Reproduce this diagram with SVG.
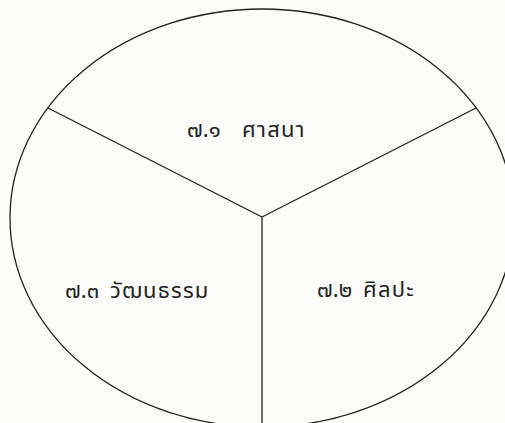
<svg xmlns="http://www.w3.org/2000/svg" width="505" height="423" viewBox="0 0 505 423">
<style>
.ln{fill:none;stroke:#222;stroke-width:1.3}
.t{font-family:"Noto Sans","Noto Sans Thai","Liberation Sans",sans-serif;font-size:22px;fill:#222;letter-spacing:1.2px}
.n{letter-spacing:0}
</style>
<rect width="505" height="423" fill="#fcfcfa"/>
<g id="circle"><ellipse class="ln" cx="262" cy="218" rx="252" ry="209"/></g>
<g id="connectors">
<line class="ln" x1="262" y1="217" x2="48" y2="108"/>
<line class="ln" x1="262" y1="217" x2="476" y2="108"/>
<line class="ln" x1="262" y1="217" x2="262" y2="423"/>
</g>
<g id="religion"><text class="t" y="137"><tspan class="n" x="187">๗.๑</tspan><tspan x="242">ศาสนา</tspan></text></g>
<g id="art"><text class="t" y="297"><tspan class="n" x="317">๗.๒</tspan><tspan x="363">ศิลปะ</tspan></text></g>
<g id="culture"><text class="t" y="298"><tspan class="n" x="65">๗.๓</tspan><tspan x="110">วัฒนธรรม</tspan></text></g>
</svg>
